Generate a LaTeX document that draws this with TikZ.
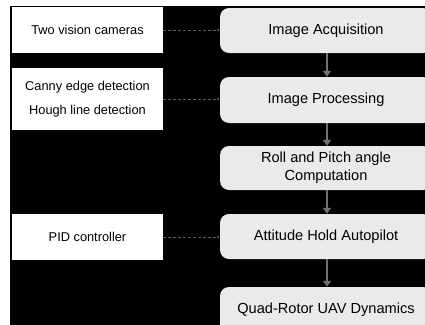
\documentclass[tikz,border=0pt]{standalone}
\usepackage{fontspec}
\setmainfont{Liberation Sans}
\usetikzlibrary{arrows.meta}
\definecolor{boxgray}{HTML}{EAEAEA}
\definecolor{arrowgray}{HTML}{707070}
\definecolor{linegray}{HTML}{5A5A5A}
\tikzset{
  stagebox/.style={draw=none, fill=boxgray, rounded corners=9pt, minimum width=212pt, inner sep=0pt, align=center, font=\fontsize{14.6}{18}\selectfont},
  methodbox/.style={draw=none, fill=white, minimum width=151pt, inner sep=0pt, align=center, font=\fontsize{12.8}{24}\selectfont},
  flowarrow/.style={draw=arrowgray, line width=2.6pt, -{Triangle[length=6pt,width=8pt]}},
  linkline/.style={draw=linegray, line width=0.8pt, densely dashed, -{Stealth[length=3pt,width=3pt]}}
}
\begin{document}
\begin{tikzpicture}[x=1pt,y=-1pt]
\useasboundingbox (0,0) rectangle (425,324);
\clip (0,0) rectangle (425,324);
\fill[white] (0,0) rectangle (425,324);
\fill[black] (10,6) rectangle (440,340);
% right stages
\node[stagebox, minimum height=45pt] (acq) at (326,30.5) {Image Acquisition};
\node[stagebox, minimum height=46pt] (proc) at (326,100) {Image Processing};
\node[stagebox, minimum height=44pt] (comp) at (326,168) {Roll and Pitch angle\\Computation};
\node[stagebox, minimum height=45pt] (auto) at (326,236.5) {Attitude Hold Autopilot};
\node[stagebox, minimum height=46pt] (dyn) at (326,310) {Quad-Rotor UAV Dynamics};
% left methods
\node[methodbox, minimum height=46pt] (cam) at (87.5,30) {Two vision cameras};
\node[methodbox, minimum height=62pt] (edge) at (87.5,99) {Canny edge detection\\Hough line detection};
\node[methodbox, minimum height=46pt] (pid) at (87.5,237) {PID controller};
% vertical flow
\draw[flowarrow] ([xshift=1pt]acq.south) -- ([xshift=1pt]proc.north);
\draw[flowarrow] ([xshift=1pt]proc.south) -- ([xshift=1pt]comp.north);
\draw[flowarrow] ([xshift=1pt]comp.south) -- ([xshift=1pt]auto.north);
\draw[flowarrow] ([xshift=1pt]auto.south) -- ([xshift=1pt]dyn.north);
% links
\draw[linkline] (cam.east) -- (cam.east -| acq.west);
\draw[linkline] (edge.east) -- (edge.east -| proc.west);
\draw[linkline] (pid.east) -- (pid.east -| auto.west);
\end{tikzpicture}
\end{document}
